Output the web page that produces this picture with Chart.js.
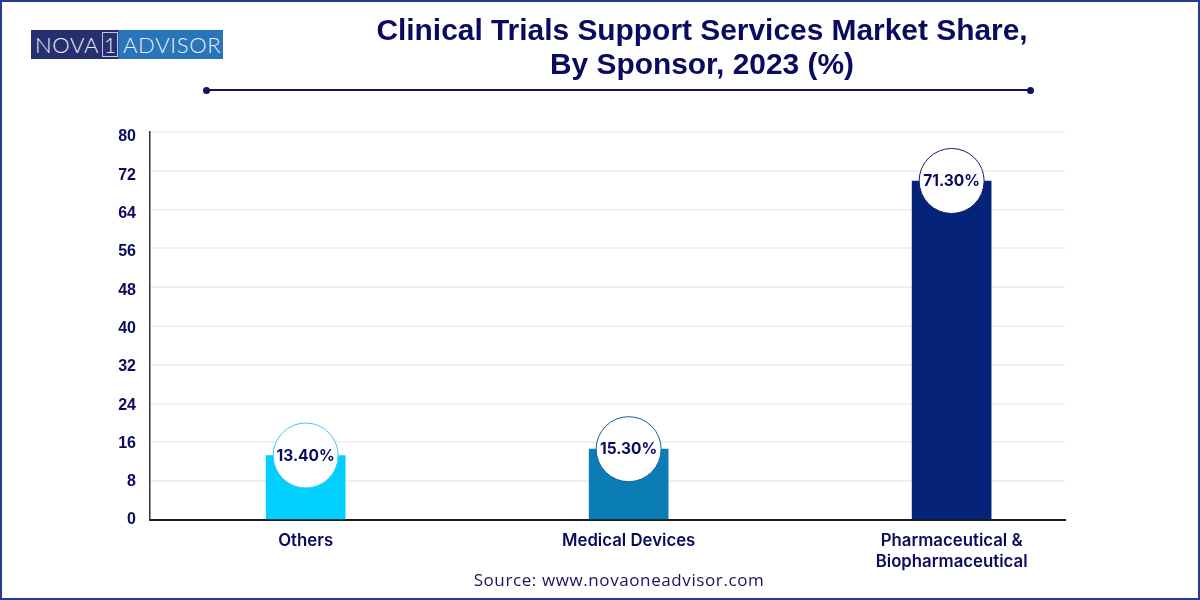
<!DOCTYPE html>
<html>
<head>
<meta charset="utf-8">
<title>Clinical Trials Support Services Market Share</title>
<script src="https://cdn.jsdelivr.net/npm/chart.js@4"></script>
<style>
  html, body { margin: 0; padding: 0; background: #fff; }
  #page { position: relative; width: 1200px; height: 600px; overflow: hidden; background: #fff; }
  #frame { position: absolute; inset: 0; border: 2px solid #2d3a92; box-sizing: border-box; pointer-events: none; }
  canvas { position: absolute; left: 0; top: 0; }
  #logo { position: absolute; left: 31px; top: 30px; width: 192px; height: 29px; background: linear-gradient(90deg, #26306f 0, #26306f 45%, #2a74ba 46%, #2a74ba 100%); color: #e8f0fa; font: 300 22px/29px Lato, sans-serif; white-space: nowrap; }
  #logo span { position: absolute; top: 0; }
  #logo .one { left: 71px; top: 2px; width: 16px; height: 25px; line-height: 24px; border: 1px solid #b9c7e6; box-sizing: border-box; text-align: center; font-size: 21px; }
  #title { position: absolute; left: 302px; top: 13px; width: 800px; text-align: center; color: #0a0a5e; font: bold 29.9px/33.5px "Liberation Sans", Arial, sans-serif; }
  #rule { position: absolute; left: 206px; top: 89px; width: 825px; height: 2px; background: #10145e; }
  #rule:before, #rule:after { content: ""; position: absolute; top: -2.5px; width: 7px; height: 7px; border-radius: 50%; background: #10145e; }
  #rule:before { left: -3px; }
  #rule:after { right: -3px; }
  #source { position: absolute; left: 419px; top: 569px; width: 400px; text-align: center; color: #15155f; font: 400 17px/22px "Open Sans", sans-serif; letter-spacing: 0.6px; }
</style>
</head>
<body>
<div id="page">
  <canvas id="chart" width="1200" height="600"></canvas>
  <div id="logo"><span style="left:4px;letter-spacing:0.7px">NOVA</span><span class="one">1</span><span style="left:92px;letter-spacing:0.7px">ADVISOR</span></div>
  <div id="title">Clinical Trials Support Services Market Share,<br>By Sponsor, 2023 (%)</div>
  <div id="rule"></div>
  <div id="source">Source: www.novaoneadvisor.com</div>
  <div id="frame"></div>
</div>
<script>
var categories = ['Others', 'Medical Devices', ['Pharmaceutical &', 'Biopharmaceutical']];
var barValues = [13.3, 14.6, 69.9];
var shareLabels = ['13.40%', '15.30%', '71.30%'];
var barColors = ['#00cfff', '#0a7db6', '#06237a'];
var ringColors = ['#45c8ee', '#1a5c92', '#14206e'];
var yStep = 8;
var yMax = 80;

var navy = '#0a0a5e';

var shareBubbles = {
  id: 'shareBubbles',
  afterDatasetsDraw: function (chart) {
    var ctx = chart.ctx;
    var x = chart.scales.x;
    var y = chart.scales.y;
    ctx.save();
    barValues.forEach(function (v, i) {
      var px = x.getPixelForValue(i);
      var py = y.getPixelForValue(v);
      ctx.beginPath();
      ctx.arc(px, py, 32.5, 0, Math.PI * 2);
      ctx.fillStyle = '#fff';
      ctx.fill();
      ctx.lineWidth = 1;
      ctx.strokeStyle = ringColors[i];
      ctx.stroke();
      ctx.fillStyle = navy;
      ctx.font = '700 15.5px Inter, sans-serif';
      ctx.textAlign = 'center';
      ctx.textBaseline = 'middle';
      ctx.fillText(shareLabels[i], px, py + 0.5);
    });
    ctx.restore();
  }
};

new Chart(document.getElementById('chart'), {
  type: 'bar',
  data: {
    datasets: [{
      data: barValues.map(function (v, i) { return { x: i, y: v }; }),
      backgroundColor: barColors,
      barThickness: 79,
      yAxisID: 'y'
    }]
  },
  plugins: [shareBubbles],
  options: {
    responsive: false,
    animation: false,
    layout: { padding: { top: 132, right: 135, left: 0, bottom: 0 } },
    plugins: { legend: { display: false }, title: { display: false }, tooltip: { enabled: false } },
    scales: {
      x: {
        type: 'linear',
        offset: false,
        min: -0.482,
        max: 2.351,
        afterBuildTicks: function (scale) {
          scale.ticks = categories.map(function (c, i) { return { value: i }; });
        },
        afterFit: function (scale) { scale.height = 80; },
        grid: { display: false, offset: false },
        border: { color: '#1a1a1a', width: 2 },
        ticks: {
          autoSkip: false,
          maxRotation: 0,
          padding: 2,
          color: navy,
          font: { family: 'Inter', size: 16.8, weight: '600', lineHeight: 1.25 },
          callback: function (v) { return categories[v]; }
        }
      },
      y: {
        position: 'left',
        weight: 0,
        min: 0,
        max: yMax,
        afterFit: function (scale) { scale.width = 0; },
        grid: { color: '#f0f0f0', lineWidth: 2, drawTicks: false },
        border: { color: '#333', width: 1.5 },
        ticks: { display: false, stepSize: yStep }
      },
      yTicks: {
        position: 'left',
        weight: 1,
        min: 0,
        max: 81.04,
        afterFit: function (scale) { scale.width = 150; },
        grid: { display: false },
        border: { display: false },
        ticks: {
          stepSize: yStep,
          includeBounds: false,
          padding: 6,
          color: navy,
          font: { family: 'Liberation Sans', size: 16, weight: 'bold' }
        }
      }
    }
  }
});
</script>
</body>
</html>
